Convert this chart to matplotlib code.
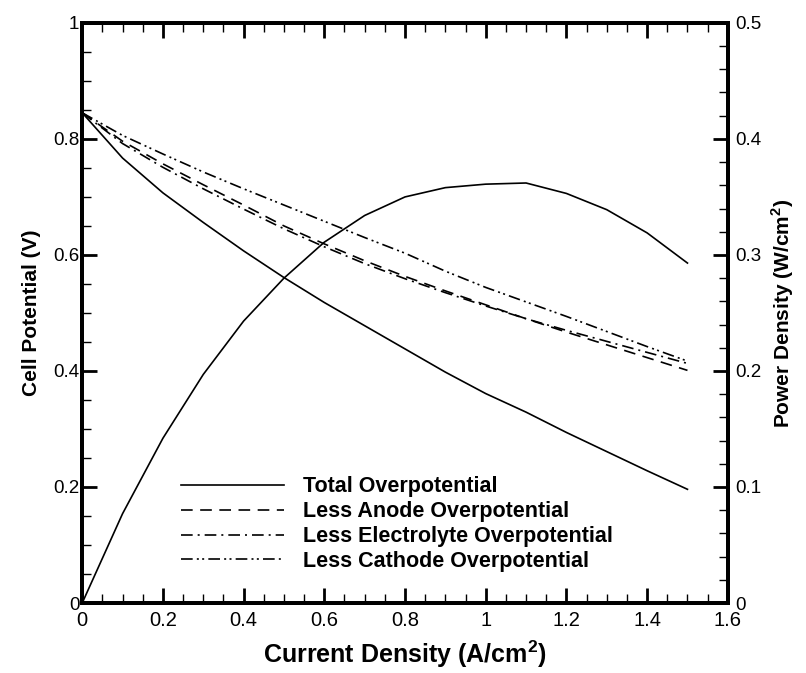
import numpy as np
import matplotlib
matplotlib.use("Agg")
import matplotlib.pyplot as plt
from matplotlib.ticker import MultipleLocator, FuncFormatter

current = [0.0, 0.1, 0.2, 0.3, 0.4, 0.5, 0.6, 0.7, 0.8, 0.9, 1.0, 1.1, 1.2, 1.3, 1.4, 1.5]
total_v = [0.845, 0.767, 0.707, 0.656, 0.607, 0.561, 0.518, 0.478, 0.438, 0.398,
           0.361, 0.329, 0.294, 0.261, 0.228, 0.196]
less_anode = [0.845, 0.796, 0.757, 0.721, 0.686, 0.650, 0.619, 0.590, 0.563, 0.538,
              0.514, 0.490, 0.467, 0.445, 0.423, 0.401]
less_electrolyte = [0.845, 0.792, 0.751, 0.714, 0.679, 0.645, 0.614, 0.585, 0.559, 0.535,
                    0.512, 0.490, 0.470, 0.451, 0.432, 0.413]
less_cathode = [0.845, 0.806, 0.774, 0.743, 0.714, 0.686, 0.658, 0.630, 0.603, 0.572,
                0.544, 0.519, 0.494, 0.468, 0.442, 0.417]
power = [0.0, 0.077, 0.142, 0.197, 0.243, 0.280, 0.311, 0.334, 0.350, 0.358,
         0.361, 0.362, 0.353, 0.339, 0.319, 0.293]

plt.rcParams['font.family'] = ['Liberation Sans', 'DejaVu Sans']

fig, ax = plt.subplots(figsize=(8.06, 6.73), dpi=100)
fig.subplots_adjust(left=0.102, right=0.903, top=0.966, bottom=0.104)
ax2 = ax.twinx()

lw = 1.2
ax.plot(current, total_v, color='black', lw=lw, label='Total Overpotential')
ax.plot(current, less_anode, color='black', lw=lw, dashes=(7, 4.5), label='Less Anode Overpotential')
ax.plot(current, less_electrolyte, color='black', lw=lw, dashes=(7, 3, 1.2, 3),
        label='Less Electrolyte Overpotential')
ax.plot(current, less_cathode, color='black', lw=lw, dashes=(7, 2.5, 1.2, 2, 1.2, 2.5),
        label='Less Cathode Overpotential')
ax2.plot(current, power, color='black', lw=lw)

ax.set_xlim(0, 1.6)
ax.set_ylim(0, 1)
ax2.set_ylim(0, 0.5)

ax.xaxis.set_major_locator(MultipleLocator(0.2))
ax.xaxis.set_minor_locator(MultipleLocator(0.05))
ax.yaxis.set_major_locator(MultipleLocator(0.2))
ax.yaxis.set_minor_locator(MultipleLocator(0.05))
ax2.yaxis.set_major_locator(MultipleLocator(0.1))
ax2.yaxis.set_minor_locator(MultipleLocator(0.02))
fmt = FuncFormatter(lambda v, p: '%g' % round(v, 3))
ax.xaxis.set_major_formatter(fmt)
ax.yaxis.set_major_formatter(fmt)
ax2.yaxis.set_major_formatter(fmt)

for a in (ax, ax2):
    for s in a.spines.values():
        s.set_linewidth(2.8)
ax.tick_params(which='major', direction='in', length=11, width=2, labelsize=13.5, top=True, right=False)
ax.tick_params(which='minor', direction='in', length=6.5, width=1, top=True, right=False)
ax.tick_params(axis='y', which='major', pad=2)
ax2.tick_params(which='major', direction='in', length=11, width=2, labelsize=13.5, pad=5)
ax2.tick_params(which='minor', direction='in', length=6.5, width=1)
ax.tick_params(axis='x', which='major', pad=6, labelsize=14.5)

ax.set_xlabel('Current Density (A/cm$^\\mathregular{2}$)', fontsize=18, fontweight='bold',
              labelpad=6)
ax.set_ylabel('Cell Potential (V)', fontsize=15, fontweight='bold', labelpad=9)
ax2.set_ylabel('Power Density (W/cm$^\\mathregular{2}$)', fontsize=15, fontweight='bold', labelpad=6)

leg = ax.legend(loc='lower left', bbox_to_anchor=(0.123, 0.02), frameon=False,
                prop={'weight': 'bold', 'size': 15.5}, handlelength=4.8, labelspacing=0.18,
                handletextpad=0.85)

fig.savefig('out.png', dpi=100)
